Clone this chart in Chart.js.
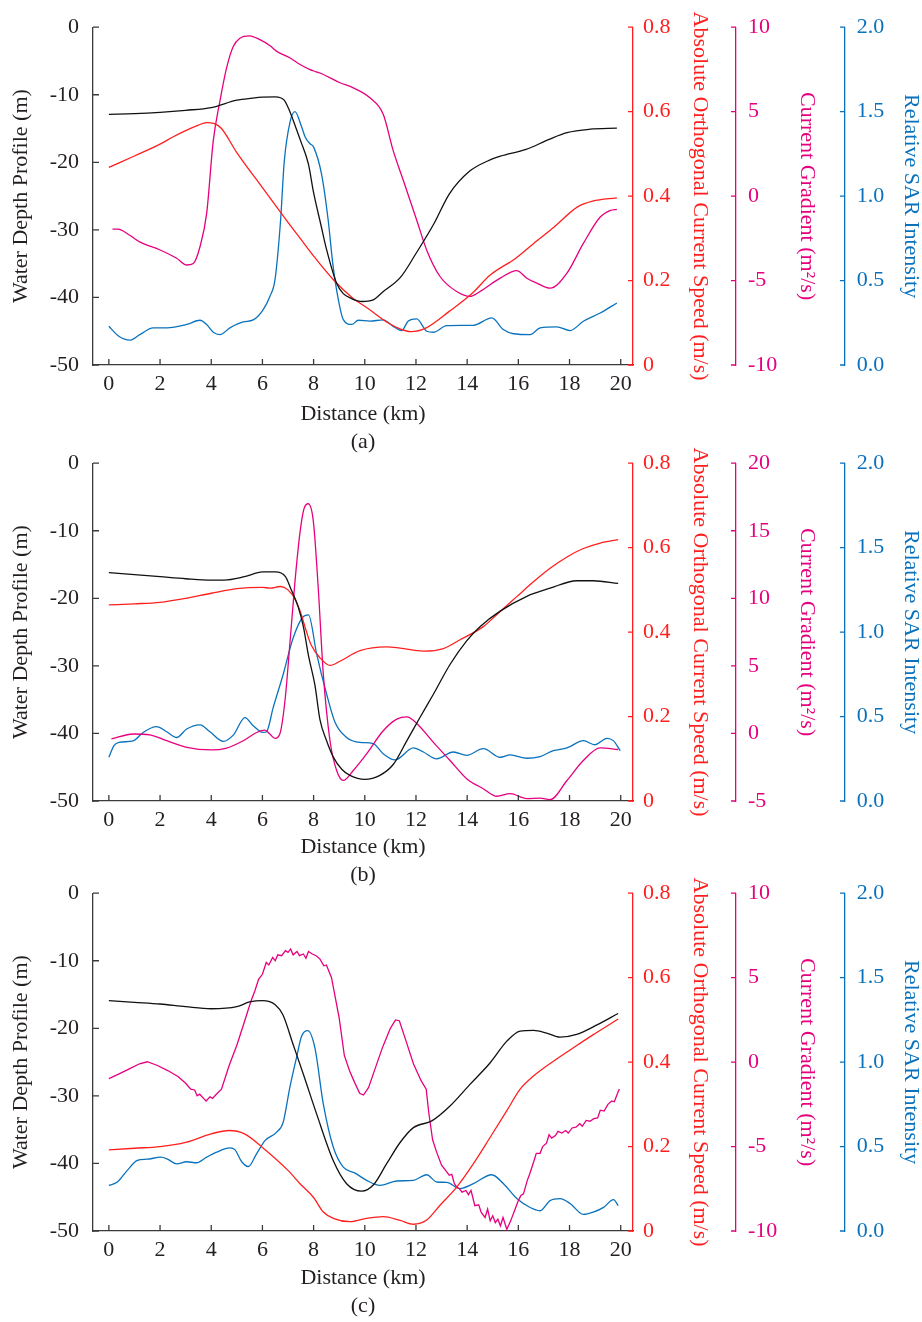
<!DOCTYPE html>
<html><head><meta charset="utf-8">
<script src="https://cdn.jsdelivr.net/npm/chart.js@4.4.1/dist/chart.umd.min.js"></script>
<style>
html,body{margin:0;padding:0;background:#fff;overflow:hidden;width:922px;height:1322px;position:relative}
.p{position:absolute;left:0;width:922px;height:458px}
</style></head><body>
<div class="p" style="top:0px"><canvas id="ca"></canvas></div>
<div class="p" style="top:436px"><canvas id="cb"></canvas></div>
<div class="p" style="top:866px"><canvas id="cc"></canvas></div>
<script>
// ---------- tick labels ----------
const xTicks = [0, 2, 4, 6, 8, 10, 12, 14, 16, 18, 20];
const depthTicks = [-50, -40, -30, -20, -10, 0];
const speedTicks = [0, 0.2, 0.4, 0.6, 0.8];
const gradTicksAC = [-10, -5, 0, 5, 10];
const gradTicksB = [-5, 0, 5, 10, 15, 20];
const sarTicks = [0, 0.5, 1.0, 1.5, 2.0];

// ---------- panel (a) ----------
const aDepthX = [0, 1, 2, 3, 4, 5, 5.6, 6, 6.5, 6.85, 7.05, 7.3, 7.5, 7.8, 8.0, 8.3, 8.5, 8.9, 9.15, 9.5, 9.9, 10.3, 10.7, 11.4, 12.0, 12.7, 13.3, 14.1, 14.8, 15.3, 16.3, 17.2, 17.9, 18.8, 19.85];
const aDepth = [-12.9, -12.8, -12.6, -12.3, -11.9, -10.8, -10.5, -10.35, -10.3, -10.8, -12.3, -14.8, -16.9, -20.3, -24.5, -29.5, -32.8, -37.9, -39.4, -40.2, -40.6, -40.4, -39.2, -37.0, -33.5, -29.1, -24.7, -21.3, -19.8, -19.1, -18.1, -16.6, -15.6, -15.1, -14.95];
const aSpeedX = [0, 1, 2, 2.5, 3, 3.5, 3.8, 4.1, 4.4, 5, 6, 7, 7.5, 8, 8.8, 9.5, 10.1, 10.9, 11.4, 11.8, 12.4, 13.3, 14.2, 14.9, 15.9, 16.6, 17.4, 18.3, 18.9, 19.85];
const aSpeed = [0.468, 0.495, 0.523, 0.54, 0.555, 0.568, 0.574, 0.572, 0.56, 0.503, 0.42, 0.338, 0.298, 0.258, 0.2, 0.16, 0.135, 0.1, 0.085, 0.079, 0.088, 0.127, 0.17, 0.213, 0.253, 0.288, 0.327, 0.374, 0.388, 0.396];
const aGradX = [0.14, 0.35, 0.8, 1.2, 2.0, 2.65, 3.04, 3.3, 3.56, 3.82, 4.08, 4.34, 4.6, 4.86, 5.12, 5.5, 5.9, 6.3, 6.56, 7.08, 7.47, 7.86, 8.1, 8.38, 9.03, 9.55, 10.2, 10.72, 11.11, 11.5, 12.03, 12.42, 12.94, 13.59, 14.11, 14.5, 15.29, 15.94, 16.33, 16.72, 17.24, 17.9, 18.54, 19.2, 19.6, 19.85];
const aGrad = [-1.96, -1.96, -2.3, -2.71, -3.19, -3.68, -4.08, -3.99, -3.0, -1.04, 3.28, 5.63, 7.59, 8.86, 9.35, 9.49, 9.26, 8.9, 8.57, 8.18, 7.79, 7.49, 7.36, 7.2, 6.71, 6.41, 5.82, 4.85, 2.69, 0.95, -1.43, -3.2, -4.76, -5.65, -5.94, -5.65, -4.86, -4.41, -4.86, -5.15, -5.45, -4.56, -2.8, -1.24, -0.85, -0.78];
const aSarX = [0, 0.39, 0.82, 1.21, 1.73, 2.26, 3.04, 3.56, 3.82, 4.08, 4.34, 4.73, 5.25, 5.64, 6.03, 6.29, 6.49, 6.71, 6.85, 7.08, 7.27, 7.53, 7.67, 7.86, 8.0, 8.31, 8.57, 8.75, 8.95, 9.16, 9.49, 9.75, 10.2, 10.72, 11.11, 11.44, 11.7, 12.03, 12.42, 12.68, 13.2, 14.24, 14.96, 15.41, 15.81, 16.46, 16.85, 17.5, 18.02, 18.54, 19.2, 19.85];
const aSar = [0.229, 0.17, 0.147, 0.18, 0.22, 0.22, 0.24, 0.265, 0.24, 0.194, 0.18, 0.22, 0.255, 0.267, 0.328, 0.406, 0.504, 0.857, 1.2, 1.44, 1.50, 1.41, 1.35, 1.31, 1.29, 1.13, 0.857, 0.6, 0.4, 0.269, 0.24, 0.265, 0.26, 0.267, 0.229, 0.204, 0.26, 0.273, 0.2, 0.194, 0.233, 0.235, 0.279, 0.21, 0.185, 0.18, 0.22, 0.226, 0.204, 0.259, 0.308, 0.367];

// ---------- panel (b) ----------
const bDepthX = [0, 1, 2, 3, 4, 4.5, 5.3, 6, 6.5, 6.9, 7.1, 7.4, 7.6, 7.8, 8.05, 8.25, 8.5, 8.77, 9.1, 9.42, 10.0, 10.59, 11.11, 11.64, 12.16, 12.68, 13.33, 13.98, 14.5, 15.29, 16.33, 17.24, 18.28, 18.93, 19.9];
const bDepth = [-16.2, -16.5, -16.8, -17.1, -17.3, -17.3, -16.8, -16.1, -16.1, -16.8, -18.5, -21.3, -24.2, -28.5, -32.8, -38.0, -41.0, -43.5, -45.3, -46.2, -46.8, -46.2, -44.6, -41.1, -37.6, -34.2, -29.8, -26.3, -24.2, -21.9, -19.7, -18.5, -17.4, -17.4, -17.8];
const bSpeedX = [0, 1, 2, 3, 4, 5, 6, 6.3, 6.7, 7.0, 7.3, 7.5, 7.7, 7.9, 8.25, 8.64, 9.03, 9.81, 10.86, 11.38, 12.29, 13.07, 13.72, 14.63, 15.29, 15.94, 16.59, 17.24, 17.9, 18.54, 19.2, 19.9];
const bSpeed = [0.4645, 0.467, 0.4706, 0.48, 0.492, 0.503, 0.506, 0.504, 0.508, 0.5, 0.475, 0.445, 0.405, 0.37, 0.339, 0.321, 0.331, 0.356, 0.365, 0.362, 0.355, 0.361, 0.382, 0.413, 0.449, 0.484, 0.519, 0.551, 0.578, 0.598, 0.611, 0.619];
const bGradX = [0.1, 0.95, 1.6, 2.26, 3.04, 4.0, 4.6, 5.25, 5.77, 6.1, 6.29, 6.49, 6.68, 6.88, 7.08, 7.27, 7.47, 7.62, 7.79, 7.99, 8.18, 8.38, 8.64, 8.9, 9.16, 9.55, 10.07, 10.72, 11.25, 11.64, 12.03, 12.68, 13.33, 13.98, 14.63, 15.16, 15.68, 16.33, 16.85, 17.24, 17.9, 18.54, 19.2, 19.9];
const bGrad = [-0.41, -0.04, -0.1, -0.54, -1.03, -1.22, -1.08, -0.54, 0.07, 0.25, -0.04, -0.37, -0.04, 2.4, 6.8, 11.2, 14.9, 16.6, 17.0, 15.7, 10.8, 4.37, -0.54, -2.74, -3.48, -2.74, -1.51, 0.2, 1.06, 1.23, 0.74, -0.66, -2.0, -3.35, -4.09, -4.65, -4.46, -4.82, -4.78, -4.9, -3.48, -2.0, -1.07, -1.19];
const bSarX = [0, 0.2, 0.4, 0.95, 1.34, 1.86, 2.26, 2.65, 3.04, 3.56, 3.95, 4.47, 4.86, 5.32, 5.64, 6.03, 6.16, 6.42, 6.81, 7.2, 7.6, 7.8, 8.12, 8.51, 8.84, 9.29, 9.81, 10.33, 10.72, 11.18, 11.9, 12.29, 12.81, 13.46, 13.98, 14.63, 15.29, 15.68, 16.33, 16.85, 17.37, 17.9, 18.54, 18.99, 19.46, 19.72, 19.98];
const bSar = [0.259, 0.328, 0.347, 0.356, 0.406, 0.44, 0.41, 0.376, 0.426, 0.451, 0.41, 0.353, 0.39, 0.494, 0.446, 0.406, 0.41, 0.553, 0.749, 0.965, 1.092, 1.102, 0.87, 0.632, 0.465, 0.376, 0.347, 0.34, 0.28, 0.243, 0.314, 0.29, 0.25, 0.29, 0.27, 0.31, 0.259, 0.273, 0.253, 0.263, 0.298, 0.314, 0.357, 0.333, 0.371, 0.356, 0.298];

// ---------- panel (c) ----------
const cDepthX = [0, 1, 2, 3, 4, 5, 5.5, 6, 6.5, 6.8, 7.2, 7.6, 8.12, 8.77, 9.29, 9.88, 10.33, 10.86, 11.38, 11.9, 12.62, 13.33, 14.11, 14.9, 15.55, 16.07, 16.59, 17.11, 17.63, 18.28, 19.07, 19.9];
const cDepth = [-15.9, -16.15, -16.4, -16.8, -17.1, -16.8, -16.1, -15.9, -16.5, -18.0, -22.4, -26.8, -32.7, -39.6, -43.0, -44.1, -43.2, -40.0, -36.9, -34.7, -33.7, -31.5, -28.3, -25.1, -21.9, -20.4, -20.3, -20.7, -21.3, -20.9, -19.5, -17.8];
const cSpeedX = [0, 1, 2, 3, 4, 4.7, 5.3, 6, 7, 7.47, 7.99, 8.38, 8.77, 9.42, 10.07, 10.72, 11.38, 11.9, 12.42, 12.94, 13.59, 14.24, 14.9, 15.55, 16.07, 16.59, 17.37, 18.15, 18.93, 19.9];
const cSpeed = [0.192, 0.196, 0.2, 0.21, 0.23, 0.238, 0.23, 0.198, 0.1435, 0.112, 0.08, 0.045, 0.03, 0.022, 0.03, 0.034, 0.025, 0.016, 0.026, 0.061, 0.104, 0.159, 0.222, 0.285, 0.336, 0.367, 0.402, 0.434, 0.465, 0.502];
const cGradX = [0, 0.4, 0.8, 1.2, 1.5, 1.9, 2.3, 2.7, 3.0, 3.2, 3.35, 3.45, 3.55, 3.7, 3.8, 3.95, 4.05, 4.2, 4.4, 4.7, 5.0, 5.3, 5.55, 5.7, 5.85, 6.0, 6.15, 6.25, 6.4, 6.5, 6.6, 6.75, 6.9, 7.0, 7.1, 7.2, 7.35, 7.45, 7.6, 7.7, 7.8, 7.95, 8.1, 8.25, 8.4, 8.5, 8.7, 8.85, 9.0, 9.2, 9.4, 9.6, 9.8, 9.95, 10.15, 10.4, 10.7, 11.0, 11.2, 11.35, 11.6, 11.9, 12.2, 12.4, 12.5, 12.65, 12.8, 13.0, 13.15, 13.3, 13.4, 13.5, 13.6, 13.7, 13.8, 13.95, 14.05, 14.15, 14.3, 14.45, 14.55, 14.7, 14.8, 14.9, 15.0, 15.1, 15.2, 15.3, 15.4, 15.55, 15.7, 15.85, 16.0, 16.1, 16.2, 16.35, 16.45, 16.6, 16.7, 16.85, 16.95, 17.1, 17.2, 17.3, 17.45, 17.55, 17.7, 17.85, 17.95, 18.1, 18.25, 18.4, 18.5, 18.65, 18.8, 18.95, 19.1, 19.2, 19.35, 19.5, 19.65, 19.75, 19.9, 19.95];
const cGrad = [-0.98, -0.7, -0.4, -0.1, 0.02, -0.2, -0.5, -0.85, -1.25, -1.6, -1.65, -2.0, -1.9, -2.15, -2.3, -2.05, -2.15, -1.9, -1.6, -0.2, 1.0, 2.4, 3.6, 4.2, 4.9, 5.2, 5.9, 5.75, 6.2, 6.0, 6.35, 6.3, 6.6, 6.5, 6.7, 6.35, 6.55, 6.3, 6.4, 6.15, 6.55, 6.4, 6.3, 6.1, 5.7, 5.75, 5.0, 3.8, 2.6, 0.4, -0.5, -1.2, -1.85, -1.95, -1.5, -0.4, 0.9, 2.0, 2.5, 2.45, 1.3, -0.1, -1.1, -1.6, -3.0, -4.6, -5.3, -6.1, -6.4, -6.7, -6.65, -7.2, -7.4, -7.5, -7.7, -7.6, -7.85, -7.6, -8.5, -8.45, -8.9, -9.2, -8.7, -9.4, -9.1, -9.5, -9.3, -9.7, -9.2, -9.9, -9.4, -8.8, -8.2, -7.9, -7.8, -7.0, -6.6, -5.9, -5.4, -5.4, -5.0, -4.8, -4.3, -4.5, -4.35, -4.1, -4.2, -4.05, -4.2, -3.9, -3.85, -3.65, -3.8, -3.45, -3.5, -3.35, -3.3, -2.85, -2.9, -2.5, -2.3, -2.35, -1.75, -1.6];
const cSarX = [0, 0.33, 0.72, 1.11, 1.5, 2.03, 2.27, 2.65, 3.04, 3.43, 3.82, 4.21, 4.73, 4.93, 5.19, 5.45, 5.77, 6.1, 6.55, 6.81, 7.07, 7.33, 7.53, 7.77, 8.05, 8.38, 8.77, 9.16, 9.62, 10.07, 10.59, 11.25, 11.9, 12.42, 12.81, 13.2, 13.72, 14.24, 14.96, 15.42, 15.94, 16.46, 16.85, 17.24, 17.63, 18.02, 18.54, 18.93, 19.33, 19.72, 19.9];
const cSar = [0.27, 0.29, 0.359, 0.418, 0.425, 0.437, 0.427, 0.398, 0.41, 0.404, 0.437, 0.467, 0.492, 0.48, 0.41, 0.382, 0.457, 0.535, 0.584, 0.643, 0.849, 1.025, 1.153, 1.186, 1.084, 0.751, 0.496, 0.378, 0.343, 0.3, 0.27, 0.296, 0.3, 0.333, 0.29, 0.288, 0.251, 0.28, 0.333, 0.28, 0.192, 0.139, 0.12, 0.18, 0.192, 0.163, 0.098, 0.112, 0.14, 0.186, 0.15];

// ---------- style ----------
const FAMILY = '"Liberation Serif", "Times New Roman", serif';
const TXT = '#231f20';
const AXIS = '#3a3a3a';
const BLACK = '#111111';
const RED = '#ff1f1f';
const MAG = '#e6007e';
const BLUE = '#0a72bd';
const MARKS = {x: 6, y: 6, ySpeed: 5, yGrad: 5, ySar: 5};

const tickMarks = {
  id: 'tickMarks',
  afterDraw(chart) {
    const ctx = chart.ctx;
    Object.keys(MARKS).forEach(id => {
      const s = chart.scales[id];
      if (!s) return;
      ctx.save();
      ctx.strokeStyle = s.options.border.color;
      ctx.lineWidth = 1.3;
      ctx.beginPath();
      s.ticks.forEach(t => {
        const p = s.getPixelForValue(t.value);
        if (id === 'x') { ctx.moveTo(p, s.top); ctx.lineTo(p, s.top - MARKS[id]); }
        else if (id === 'y') { ctx.moveTo(s.right, p); ctx.lineTo(s.right + MARKS[id], p); }
        else { ctx.moveTo(s.left, p); ctx.lineTo(s.left - MARKS[id], p); }
      });
      ctx.stroke();
      ctx.restore();
    });
  }
};

const pts = (xs, ys) => xs.map((x, i) => ({x: x, y: ys[i]}));
const setTicks = arr => (s => { s.ticks = arr.map(v => ({value: v})); });
const font = {family: FAMILY, size: 22};

function vAxis(pos, color, ticksArr, min, max, title, width, labelPad, titlePad, fmt) {
  return {
    type: 'linear', position: pos, min: min, max: max,
    afterBuildTicks: setTicks(ticksArr),
    afterFit: s => { s.width = width; },
    grid: {display: false, drawTicks: false},
    border: {display: true, color: color, width: 1.3},
    ticks: {autoSkip: false, padding: labelPad, color: color === AXIS ? TXT : color, font: font, callback: fmt},
    title: {display: true, text: title, color: color === AXIS ? TXT : color,
            font: {family: FAMILY, size: 22, lineHeight: 1.1}, padding: {top: titlePad, bottom: 0}}
  };
}

function build(id, tag, d, gradMin, gradMax, gradTicks, jagged, capPad) {
  new Chart(document.getElementById(id), {
    type: 'line',
    data: {datasets: [
      {label: 'Water Depth Profile', data: pts(d[0], d[1]), borderColor: BLACK, yAxisID: 'y'},
      {label: 'Absolute Orthogonal Current Speed', data: pts(d[2], d[3]), borderColor: RED, yAxisID: 'ySpeed'},
      {label: 'Current Gradient', data: pts(d[4], d[5]), borderColor: MAG, yAxisID: 'yGrad',
       tension: jagged ? 0 : undefined, cubicInterpolationMode: jagged ? 'default' : 'monotone'},
      {label: 'Relative SAR Intensity', data: pts(d[6], d[7]), borderColor: BLUE, yAxisID: 'ySar'}
    ]},
    options: {
      responsive: true, maintainAspectRatio: false, animation: false,
      layout: {padding: {top: 25, left: 0, right: 0, bottom: 0}},
      plugins: {legend: {display: false}, tooltip: {enabled: false}},
      elements: {point: {radius: 0}, line: {borderWidth: 1.3, cubicInterpolationMode: 'monotone', fill: false}},
      scales: {
        x: {
          type: 'linear', position: 'bottom', min: -0.62, max: 20.48,
          afterBuildTicks: setTicks(xTicks),
          afterFit: s => { s.height = 93; },
          grid: {display: false, drawTicks: false},
          border: {display: true, color: AXIS, width: 1.3},
          ticks: {autoSkip: false, maxRotation: 0, padding: 6, color: TXT, font: font, callback: v => String(v)},
          title: {display: true, text: ['Distance (km)', tag], color: TXT,
                  font: {family: FAMILY, size: 22, lineHeight: 1.2727}, padding: {top: 0, bottom: capPad}}
        },
        y: vAxis('left', AXIS, depthTicks, -50, 0, 'Water Depth Profile (m)', 93, 14, 8.7, v => String(v)),
        ySpeed: vAxis('right', RED, speedTicks, 0, 0.8, 'Absolute Orthogonal Current Speed (m/s)', 103, 10, 23.9, v => String(v)),
        yGrad: vAxis('right', MAG, gradTicks, gradMin, gradMax, 'Current Gradient (m\u00B2/s)', 109, 12, 26.2, v => String(v)),
        ySar: vAxis('right', BLUE, sarTicks, 0, 2, 'Relative SAR Intensity', 77, 11.7, -1.1, v => v.toFixed(1))
      }
    },
    plugins: [tickMarks]
  });
}

build('ca', '(a)', [aDepthX, aDepth, aSpeedX, aSpeed, aGradX, aGrad, aSarX, aSar], -10, 10, gradTicksAC, false, 1.5);
build('cb', '(b)', [bDepthX, bDepth, bSpeedX, bSpeed, bGradX, bGrad, bSarX, bSar], -5, 20, gradTicksB, false, 4.5);
build('cc', '(c)', [cDepthX, cDepth, cSpeedX, cSpeed, cGradX, cGrad, cSarX, cSar], -10, 10, gradTicksAC, true, 4);
</script>
</body></html>
